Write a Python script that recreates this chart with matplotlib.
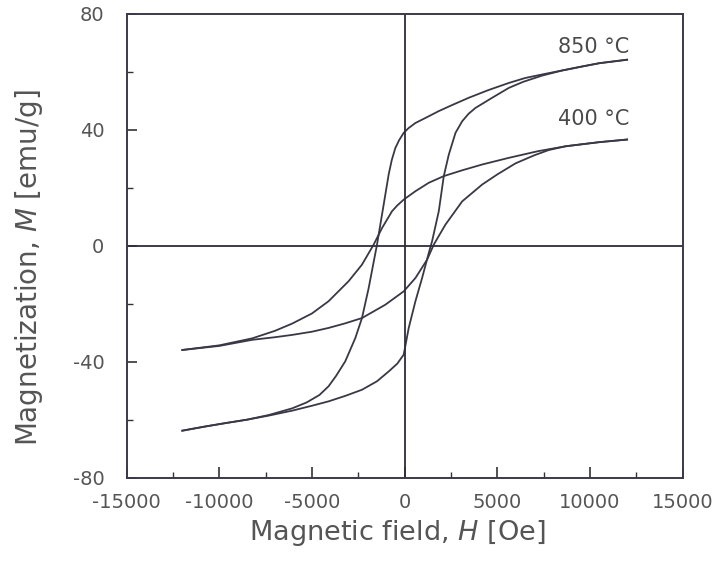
import matplotlib
matplotlib.use("Agg")
import matplotlib.pyplot as plt
from matplotlib.ticker import MultipleLocator

plt.rcParams['font.family'] = ['DejaVu Sans']
plt.rcParams['axes.unicode_minus'] = False

# 850 C loop, descending branch (from +H to -H)
h850_down = [12000, 10500, 9600, 8500, 7400, 6500, 5620, 4500, 3460, 2600,
             1838, 1200, 578, 200, -54, -300, -505, -700, -865, -1135,
             -1495, -1946, -2306, -2666, -3207, -3700, -4108, -4600,
             -5300, -6070, -7330, -8500, -9680, -10800, -12000]
m850_down = [64.1, 62.9, 61.8, 60.4, 59.0, 57.8, 56.1, 53.6, 51.0, 48.6,
             46.4, 44.3, 42.3, 40.5, 38.9, 36.4, 33.7, 29.5, 24.6, 14.2,
             0.4, -14.6, -24.9, -31.8, -39.8, -44.8, -48.4, -51.4,
             -54.0, -56.0, -58.3, -59.9, -61.1, -62.3, -63.7]
# 850 C loop, ascending branch (from -H to +H)
h850_up = [-12000, -10800, -9680, -8500, -7330, -6070, -5000, -4108, -3200,
           -2306, -1500, -865, -400, -54, 216, 578, 938, 1297, 1478, 1838,
           2108, 2378, 2740, 3100, 3450, 3820, 4720, 5620, 6400, 7400,
           8500, 9600, 10500, 12000]
m850_up = [-63.7, -62.3, -61.1, -59.9, -58.5, -56.8, -55.1, -53.6, -51.7,
           -49.6, -46.7, -43.3, -40.6, -37.5, -28.3, -19.1, -11.1, -2.5, 1.6,
           11.9, 24.0, 31.4, 38.9, 42.9, 45.5, 47.5, 51.0, 54.4, 56.5, 58.6,
           60.4, 61.8, 62.9, 64.1]

# 400 C loop, descending branch
h400_down = [12000, 10500, 8700, 7200, 5620, 4180, 3100, 2108, 1297, 578,
             -54, -400, -685, -1225, -1676, -2306, -3027, -4108, -5000,
             -6070, -7000, -8230, -10000, -12000]
m400_down = [36.6, 35.7, 34.3, 32.6, 30.3, 28.0, 26.0, 24.0, 21.7, 18.8,
             15.9, 13.9, 11.9, 6.1, 0.4, -6.5, -12.2, -19.1, -23.3,
             -26.8, -29.3, -31.9, -34.3, -35.9]
# 400 C loop, ascending branch
h400_up = [-12000, -10000, -8230, -7000, -6070, -5000, -4108, -3200, -2306,
           -1045, -54, 578, 1207, 1568, 2198, 3100, 4180, 5000, 5980, 7000,
           7780, 8700, 10500, 12000]
m400_up = [-35.9, -34.5, -32.4, -31.5, -30.7, -29.6, -28.3, -26.7, -24.9,
           -20.3, -15.7, -11.1, -4.8, 0.4, 7.3, 15.3, 21.1, 24.6, 28.4, 31.2,
           33.0, 34.3, 35.7, 36.6]

x_ticks = [-15000, -10000, -5000, 0, 5000, 10000, 15000]
y_ticks = [-80, -40, 0, 40, 80]

fig = plt.figure(figsize=(7.24, 5.65), dpi=100)
ax = fig.add_axes([0.175, 0.154, 0.768, 0.822])

line_color = '#3b3845'
for hh, mm in [(h850_down, m850_down), (h850_up, m850_up),
               (h400_down, m400_down), (h400_up, m400_up)]:
    ax.plot(hh, mm, color=line_color, lw=1.3)

# axis cross lines
ax.axhline(0, color='#2f2c3c', lw=1.3)
ax.axvline(0, color='#2f2c3c', lw=1.3)

ax.text(12100, 68.5, '850 °C', ha='right', va='center', fontsize=15, color='#4a4a4a')
ax.text(12100, 43.8, '400 °C', ha='right', va='center', fontsize=15, color='#4a4a4a')

ax.set_xlim(-15000, 15000)
ax.set_ylim(-80, 80)
ax.set_xticks(x_ticks)
ax.set_yticks(y_ticks)
ax.xaxis.set_minor_locator(MultipleLocator(2500))
ax.yaxis.set_minor_locator(MultipleLocator(20))
ax.tick_params(which='both', direction='in', top=False, right=False,
               colors='#333333', labelcolor='#555555', labelsize=14)
ax.tick_params(axis='x', which='major', length=8, width=1.2, pad=11)
ax.tick_params(axis='y', which='major', length=7, width=1.2, pad=16)
ax.tick_params(which='minor', length=4, width=1.0)

for sp in ax.spines.values():
    sp.set_color('#3a3a4a')
    sp.set_linewidth(1.4)

ax.set_xlabel('Magnetic field, $\\mathit{H}$ [Oe]', fontsize=19.5, color='#555555')
ax.set_ylabel('Magnetization, $\\mathit{M}$ [emu/g]', fontsize=20, color='#555555')
ax.xaxis.set_label_coords(0.4865, -0.086)
ax.yaxis.set_label_coords(-0.147, 0.453)

fig.savefig('out.png', dpi=100)
